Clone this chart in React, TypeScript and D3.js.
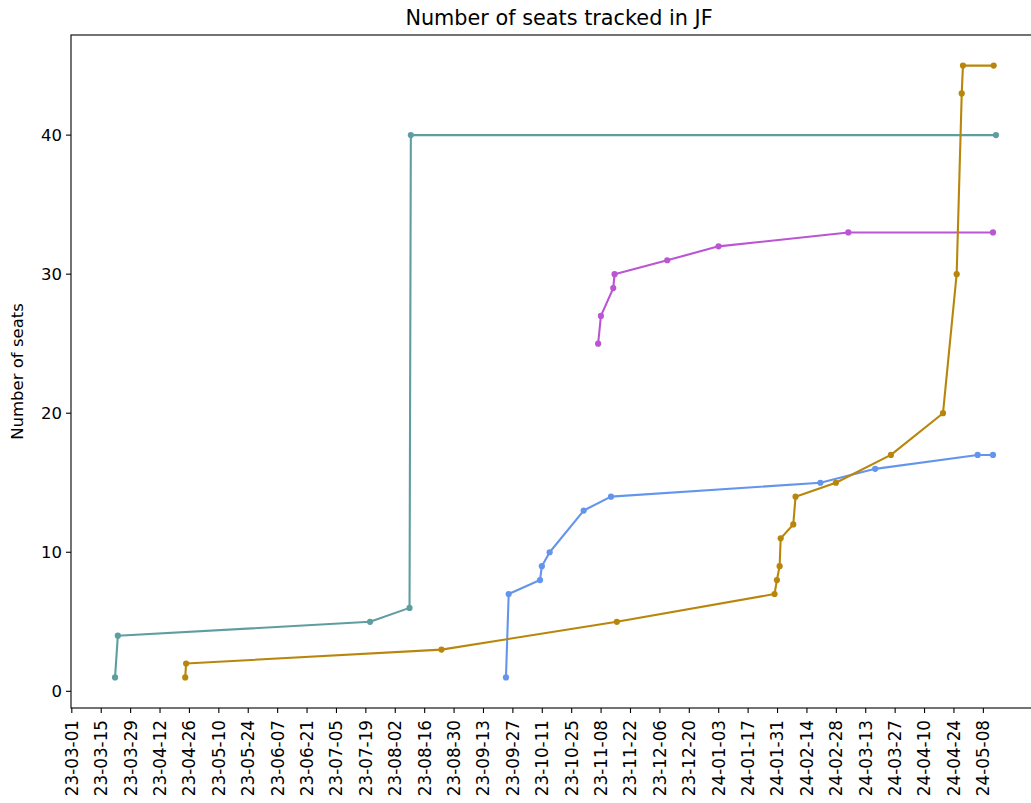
import React from "react";
import * as d3 from "d3";

const TITLE = "Number of seats tracked in JF";
const Y_LABEL = "Number of seats";

const tealDates = ["2023-03-21T14", "2023-03-22T22", "2023-07-21T00", "2023-08-08T19", "2023-08-09T10", "2024-05-14T00"];
const tealValues = [1, 4, 5, 6, 40, 40];

const purpleDates = ["2023-11-06T14", "2023-11-07T22", "2023-11-13T19", "2023-11-14T10", "2023-12-09T12", "2024-01-02T22", "2024-03-04T17", "2024-05-12T14"];
const purpleValues = [25, 27, 29, 30, 31, 32, 33, 33];

const blueDates = ["2023-09-23T17", "2023-09-25T00", "2023-10-09T22", "2023-10-10T19", "2023-10-14T12", "2023-10-30T17", "2023-11-12T17", "2024-02-20T10", "2024-03-17T12", "2024-05-05T07", "2024-05-12T14"];
const blueValues = [1, 7, 8, 9, 10, 13, 14, 15, 16, 17, 17];

const goldDates = ["2023-04-24T00", "2023-04-24T10", "2023-08-24T00", "2023-11-15T12", "2024-01-29T14", "2024-01-30T17", "2024-02-01T00", "2024-02-01T12", "2024-02-07T12", "2024-02-08T14", "2024-02-27T19", "2024-03-25T00", "2024-04-18T19", "2024-04-25T07", "2024-04-27T17", "2024-04-28T07", "2024-05-12T22"];
const goldValues = [1, 2, 3, 5, 7, 8, 9, 11, 12, 14, 15, 17, 20, 30, 43, 45, 45];

const xTickLabels = ["23-03-01", "23-03-15", "23-03-29", "23-04-12", "23-04-26", "23-05-10", "23-05-24", "23-06-07", "23-06-21", "23-07-05", "23-07-19", "23-08-02", "23-08-16", "23-08-30", "23-09-13", "23-09-27", "23-10-11", "23-10-25", "23-11-08", "23-11-22", "23-12-06", "23-12-20", "24-01-03", "24-01-17", "24-01-31", "24-02-14", "24-02-28", "24-03-13", "24-03-27", "24-04-10", "24-04-24", "24-05-08"];
const yTickValues = [0, 10, 20, 30, 40];

const parseDate = d3.utcParse("%Y-%m-%dT%H");
const parseTick = d3.utcParse("%y-%m-%d");

type Pt = { date: Date; value: number };
const build = (ds: string[], vs: number[]): Pt[] => ds.map((d, i) => ({ date: parseDate(d) as Date, value: vs[i] }));

const series = [
  { name: "teal", color: "#5f9ea0", data: build(tealDates, tealValues) },
  { name: "purple", color: "#ba55d3", data: build(purpleDates, purpleValues) },
  { name: "blue", color: "#6495ed", data: build(blueDates, blueValues) },
  { name: "gold", color: "#b8860b", data: build(goldDates, goldValues) },
];

const W = 1031;
const H = 803;
const LEFT = 71;
const RIGHT = 1040;
const TOP = 35;
const BOTTOM = 708;
const FONT = "DejaVu Sans, sans-serif";

export default function App() {
  const all = series.flatMap((s) => s.data);
  const [tMin, tMax] = d3.extent(all, (d) => d.date.getTime()) as [number, number];
  const tPad = (tMax - tMin) * 0.05;
  const x = d3.scaleUtc().domain([new Date(tMin - tPad), new Date(tMax + tPad)]).range([LEFT, RIGHT]);
  const [vMin, vMax] = d3.extent(all, (d) => d.value) as [number, number];
  const vPad = (vMax - vMin) * 0.05;
  const y = d3.scaleLinear().domain([vMin - vPad, vMax + vPad]).range([BOTTOM, TOP]);

  const line = d3
    .line<Pt>()
    .x((d) => x(d.date))
    .y((d) => y(d.value));

  return (
    <svg width={W} height={H} style={{ position: "absolute", left: 0, top: 0, background: "#fff" }} fontFamily={FONT}>
      <rect x={0} y={0} width={W} height={H} fill="#fff" />
      <text x={559} y={25} textAnchor="middle" fontSize={20.8} fill="#000">
        {TITLE}
      </text>
      {series.map((s) => (
        <g key={s.name}>
          <path d={line(s.data) || ""} fill="none" stroke={s.color} strokeWidth={2.1} strokeLinejoin="round" strokeLinecap="square" />
          {s.data.map((d, i) => (
            <circle key={i} cx={x(d.date)} cy={y(d.value)} r={3.1} fill={s.color} />
          ))}
        </g>
      ))}
      <rect x={LEFT} y={TOP} width={RIGHT - LEFT} height={BOTTOM - TOP} fill="none" stroke="#000" strokeWidth={1.1} />
      {yTickValues.map((v) => (
        <g key={v} transform={`translate(${LEFT},${y(v)})`}>
          <line x1={-5} x2={0} stroke="#000" strokeWidth={1.1} />
          <text x={-9} dy="0.35em" textAnchor="end" fontSize={16.5} fill="#000">
            {v}
          </text>
        </g>
      ))}
      {xTickLabels.map((t) => {
        const xx = x(parseTick(t) as Date);
        return (
          <g key={t} transform={`translate(${xx},${BOTTOM})`}>
            <line y1={0} y2={5} stroke="#000" strokeWidth={1.1} />
            <text transform="rotate(-90)" x={-12} dy="0.35em" textAnchor="end" fontSize={16.8} fill="#000">
              {t}
            </text>
          </g>
        );
      })}
      <text transform={`translate(23,${(TOP + BOTTOM) / 2}) rotate(-90)`} textAnchor="middle" fontSize={16.5} fill="#000">
        {Y_LABEL}
      </text>
    </svg>
  );
}
